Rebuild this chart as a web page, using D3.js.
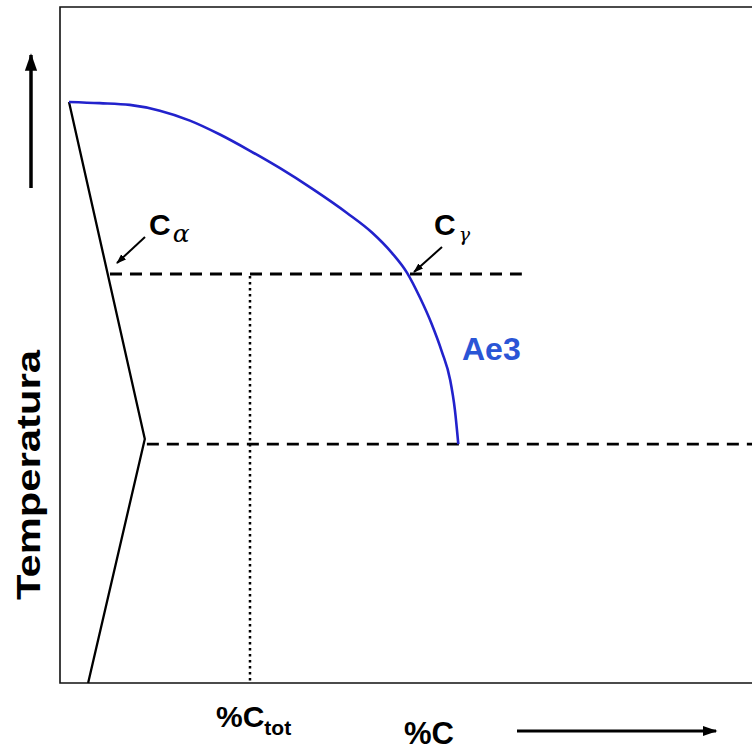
<!DOCTYPE html>
<html>
<head>
<meta charset="utf-8">
<script src="https://cdn.jsdelivr.net/npm/d3@7/dist/d3.min.js"></script>
<style>
  html, body { margin: 0; padding: 0; background: #fff; }
  svg { display: block; }
  text { font-family: "Liberation Sans", Arial, sans-serif; font-weight: bold; }
</style>
</head>
<body>
<script>
// Schematic Fe-C diagram: carbon content (x, relative units) vs temperature (y, relative units)
const ae3Curve = [
  [0.0, 100.0], [4.5, 99.8], [8.9, 99.5], [13.3, 98.5], [17.7, 96.8], [22.1, 94.4],
  [26.5, 91.6], [30.9, 88.6], [35.7, 85.0], [40.7, 80.9], [44.4, 77.5], [47.3, 74.0],
  [49.5, 70.6], [51.4, 66.3], [53.1, 61.8], [54.6, 57.0], [55.8, 52.2], [56.5, 47.0],
  [57.0, 41.1]
];
const alphaBoundary = [[0.0, 100.0], [11.1, 42.0], [2.8, 0.0]];
const upperTemp = 70.4;   // isotherm through Cα and Cγ
const lowerTemp = 41.1;   // lower isotherm
const upperIsoX = [6.0, 66.3];
const lowerIsoX = [11.4, 100];
const cTot = 26.5;        // total carbon content of the alloy

const W = 752, H = 751;
const frame = { left: 60, top: 7, right: 760, bottom: 683 };

const x = d3.scaleLinear().domain([0, 100]).range([69, 752]);
const y = d3.scaleLinear().domain([0, 100]).range([683, 102]);

const svg = d3.select("body").append("svg").attr("width", W).attr("height", H);

svg.append("defs").append("marker")
  .attr("id", "head").attr("viewBox", "0 0 10 10").attr("refX", 9).attr("refY", 5)
  .attr("markerWidth", 5).attr("markerHeight", 5).attr("markerUnits", "strokeWidth")
  .attr("orient", "auto")
  .append("path").attr("d", "M0,1.5 L10,5 L0,8.5 Z").attr("fill", "#000");

// plot frame (right side open)
svg.append("path")
  .attr("d", `M${frame.right},${frame.top} H${frame.left} V${frame.bottom} H${frame.right}`)
  .attr("fill", "none").attr("stroke", "#111").attr("stroke-width", 1.6);

const line = d3.line().x(d => x(d[0])).y(d => y(d[1]));

// isotherms
svg.append("line")
  .attr("x1", x(upperIsoX[0])).attr("x2", x(upperIsoX[1]))
  .attr("y1", y(upperTemp)).attr("y2", y(upperTemp))
  .attr("stroke", "#000").attr("stroke-width", 2.8).attr("stroke-dasharray", "12,8");
svg.append("line")
  .attr("x1", x(lowerIsoX[0])).attr("x2", x(lowerIsoX[1]))
  .attr("y1", y(lowerTemp)).attr("y2", y(lowerTemp))
  .attr("stroke", "#000").attr("stroke-width", 2.8).attr("stroke-dasharray", "12,8");

// total carbon (dotted vertical)
svg.append("line")
  .attr("x1", x(cTot)).attr("x2", x(cTot))
  .attr("y1", y(upperTemp) + 2).attr("y2", y(0) - 1)
  .attr("stroke", "#000").attr("stroke-width", 2.5).attr("stroke-dasharray", "2.5,3.5");

// ferrite boundary
svg.append("path").datum(alphaBoundary).attr("d", line)
  .attr("fill", "none").attr("stroke", "#000").attr("stroke-width", 2.3);

// Ae3 curve
svg.append("path").datum(ae3Curve)
  .attr("d", d3.line().curve(d3.curveMonotoneX).x(d => x(d[0])).y(d => y(d[1])))
  .attr("fill", "none").attr("stroke", "#2222cc").attr("stroke-width", 2.6);

// arrows pointing to Cα and Cγ
svg.append("line").attr("x1", 145).attr("y1", 237).attr("x2", 117).attr("y2", 263)
  .attr("stroke", "#000").attr("stroke-width", 2).attr("marker-end", "url(#head)");
svg.append("line").attr("x1", 442).attr("y1", 247).attr("x2", 414).attr("y2", 272)
  .attr("stroke", "#000").attr("stroke-width", 2).attr("marker-end", "url(#head)");

const cAlpha = svg.append("text").attr("x", 149).attr("y", 235).attr("font-size", 30);
cAlpha.append("tspan").text("C");
cAlpha.append("tspan").attr("dx", 2).attr("dy", 7).attr("font-size", 25).attr("font-style", "italic")
  .attr("font-weight", "normal").attr("font-family", "DejaVu Serif, serif").text("α");

const cGamma = svg.append("text").attr("x", 434).attr("y", 235).attr("font-size", 30);
cGamma.append("tspan").text("C");
cGamma.append("tspan").attr("dx", 3).attr("dy", 6).attr("font-size", 19).attr("font-style", "italic")
  .attr("font-weight", "normal").attr("font-family", "DejaVu Serif, serif").text("γ");

svg.append("text").attr("x", 462).attr("y", 360).attr("font-size", 32)
  .attr("fill", "#2a55d6").text("Ae3");

// axis titles and direction arrows
svg.append("text").attr("transform", "translate(40,475) rotate(-90)")
  .attr("text-anchor", "middle").attr("font-size", 34)
  .attr("textLength", 250).attr("lengthAdjust", "spacingAndGlyphs").text("Temperatura");
svg.append("line").attr("x1", 31).attr("y1", 188).attr("x2", 31).attr("y2", 55)
  .attr("stroke", "#000").attr("stroke-width", 3.5).attr("marker-end", "url(#head)");

const cTotLabel = svg.append("text").attr("x", 216).attr("y", 727).attr("font-size", 30);
cTotLabel.append("tspan").text("%C");
cTotLabel.append("tspan").attr("dy", 8).attr("font-size", 21).text("tot");

svg.append("text").attr("x", 404).attr("y", 744).attr("font-size", 31).text("%C");
svg.append("line").attr("x1", 517).attr("y1", 731).attr("x2", 716).attr("y2", 731)
  .attr("stroke", "#000").attr("stroke-width", 3).attr("marker-end", "url(#head)");
</script>
</body>
</html>
